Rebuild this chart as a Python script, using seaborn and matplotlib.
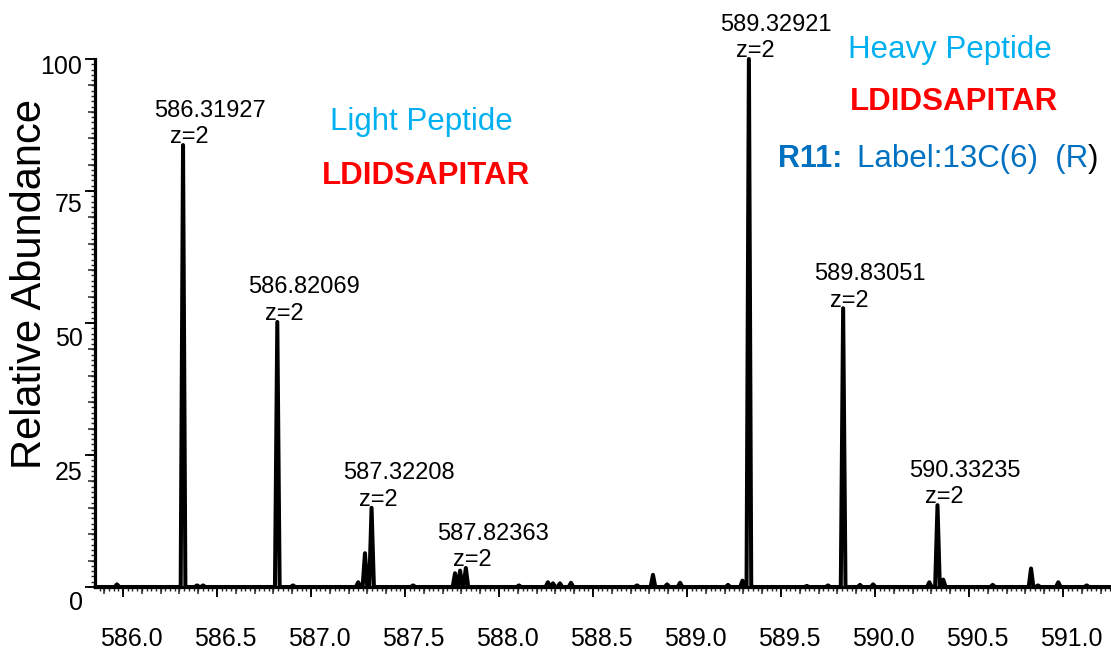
import numpy as np
import pandas as pd
import matplotlib
matplotlib.use("Agg")
import matplotlib.pyplot as plt
import matplotlib.transforms as mtransforms
from matplotlib.ticker import MultipleLocator, FixedLocator, NullFormatter
import seaborn as sns

# Isotope peaks annotated with m/z and charge
labeled_mz = [586.31927, 586.82069, 587.32208, 587.82363, 589.32921, 589.83051, 590.33235]
labeled_abundance = [83.7, 50.2, 15.0, 3.6, 100.0, 52.8, 15.5]
labeled_charge = [2, 2, 2, 2, 2, 2, 2]

# Unannotated minor signals
minor_mz = [585.968, 586.394, 586.426, 586.904, 587.251, 587.287, 587.543,
            587.766, 587.793, 588.106, 588.260, 588.287, 588.324, 588.383,
            588.734, 588.819, 588.894, 588.963, 589.218, 589.295, 589.637,
            589.750, 589.920, 589.990, 590.289, 590.363, 590.626, 590.830,
            590.867, 590.975, 591.126]
minor_abundance = [0.5, 0.3, 0.3, 0.3, 0.9, 6.4, 0.3,
                   2.6, 3.1, 0.3, 0.9, 0.7, 0.7, 0.8,
                   0.3, 2.3, 0.5, 0.8, 0.4, 1.2, 0.2,
                   0.3, 0.4, 0.5, 0.9, 1.4, 0.4, 3.5,
                   0.3, 0.9, 0.3]

x_ticks = [586.0, 586.5, 587.0, 587.5, 588.0, 588.5, 589.0, 589.5, 590.0, 590.5, 591.0]
y_ticks = [0, 25, 50, 75, 100]

light_title = "Light Peptide"
heavy_title = "Heavy Peptide"
sequence = "LDIDSAPITAR"
mod_site = "R11:"
mod_text = "Label:13C(6)  (R"

sns.set_theme(style="ticks")
plt.rcParams["font.family"] = ["Liberation Sans", "DejaVu Sans"]

X_MIN, X_MAX = 585.851, 591.25
PEAK_HALF_WIDTH = 0.0125

# Stick-style profile: each centroid becomes a narrow spike on a flat baseline
peaks = sorted(zip(labeled_mz + minor_mz, labeled_abundance + minor_abundance))
xs, ys = [X_MIN], [0.0]
for m, a in peaks:
    xs += [m - PEAK_HALF_WIDTH, m, m + PEAK_HALF_WIDTH]
    ys += [0.0, a, 0.0]
xs.append(X_MAX)
ys.append(0.0)
spectrum = pd.DataFrame({"mz": xs, "abundance": ys})

fig = plt.figure(figsize=(11.11, 6.52), dpi=100)
ax = fig.add_axes([95 / 1111, 65 / 652, 1015 / 1111, 528 / 652])

sns.lineplot(data=spectrum, x="mz", y="abundance", sort=False, estimator=None,
             color="black", linewidth=2.9, ax=ax)
for line in ax.get_lines():
    line.set_solid_joinstyle("round")
    line.set_clip_on(False)

ax.set_xlim(X_MIN, X_MAX)
ax.set_ylim(0, 100)
ax.set_xlabel("")
ax.set_ylabel("")

for side in ("top", "right"):
    ax.spines[side].set_visible(False)
for side in ("left", "bottom"):
    ax.spines[side].set_linewidth(2.3)
    ax.spines[side].set_color("black")

# x axis: labelled every 0.5, minor every 0.025, medium ticks every 0.1
ax.xaxis.set_major_locator(FixedLocator(x_ticks))
ax.set_xticklabels([f"{t:.1f}" for t in x_ticks])
ax.xaxis.set_minor_locator(MultipleLocator(0.025))
ax.tick_params(axis="x", which="major", length=7, width=1.3, pad=22,
               labelsize=18, colors="black", direction="out")
ax.tick_params(axis="x", which="minor", length=3, width=1.0, direction="out")
sec_x = ax.secondary_xaxis("bottom")
sec_x.xaxis.set_major_locator(MultipleLocator(0.1))
sec_x.xaxis.set_major_formatter(NullFormatter())
sec_x.tick_params(axis="x", length=5, width=1.1, direction="out")
sec_x.spines["bottom"].set_visible(False)

# y axis: labelled every 25, minor every 1, medium ticks every 5
ax.yaxis.set_major_locator(FixedLocator(y_ticks))
ax.set_yticklabels([str(t) for t in y_ticks])
ax.yaxis.set_minor_locator(MultipleLocator(1))
ax.tick_params(axis="y", which="major", length=7, width=1.3, pad=2,
               labelsize=18, colors="black", direction="out")
ax.tick_params(axis="y", which="minor", length=3, width=1.0, direction="out")
sec_y = ax.secondary_yaxis("left")
sec_y.yaxis.set_major_locator(MultipleLocator(5))
sec_y.yaxis.set_major_formatter(NullFormatter())
sec_y.tick_params(axis="y", length=5, width=1.1, direction="out")
sec_y.spines["left"].set_visible(False)

shift_x = mtransforms.ScaledTranslation(8 / 100, 0, fig.dpi_scale_trans)
for lbl in ax.get_xticklabels():
    lbl.set_transform(lbl.get_transform() + shift_x)
# y labels sit slightly below their ticks
y_label_drop = [13, 15, 14, 12, 6]
for lbl, drop in zip(ax.get_yticklabels(), y_label_drop):
    lbl.set_transform(lbl.get_transform()
                      + mtransforms.ScaledTranslation(0, -drop / 100, fig.dpi_scale_trans))

# Peak annotations: m/z on top, charge state just above the apex
for m, a, z in zip(labeled_mz, labeled_abundance, labeled_charge):
    ax.annotate(f"{m:.5f}", xy=(m, a), xytext=(19.5, 20.5), textcoords="offset points",
                ha="center", va="baseline", fontsize=17, color="black")
    ax.annotate(f"z={z}", xy=(m, a), xytext=(4.7, 1.2), textcoords="offset points",
                ha="center", va="baseline", fontsize=17, color="black")

fig.text(30 / 1111, 1 - 284 / 652, "Relative Abundance", rotation=90,
         ha="center", va="center", fontsize=30, color="black")

LIGHT_BLUE = "#00B0F0"
RED = "#FF0000"
BLUE = "#0070C0"

fig.text(421 / 1111, 1 - 130 / 652, light_title, ha="center", va="baseline",
         fontsize=22.5, color=LIGHT_BLUE)
fig.text(426 / 1111, 1 - 184 / 652, sequence, ha="center", va="baseline",
         fontsize=22.5, fontweight="bold", color=RED)
fig.text(950 / 1111, 1 - 58 / 652, heavy_title, ha="center", va="baseline",
         fontsize=22.5, color=LIGHT_BLUE)
fig.text(954 / 1111, 1 - 110 / 652, sequence, ha="center", va="baseline",
         fontsize=22.5, fontweight="bold", color=RED)
fig.text(778 / 1111, 1 - 167 / 652, mod_site, ha="left", va="baseline",
         fontsize=22, fontweight="bold", color=BLUE)
mod_artist = fig.text(857 / 1111, 1 - 167 / 652, mod_text, ha="left", va="baseline",
                      fontsize=22.5, color=BLUE)
# closing bracket in black, attached right after the modification text
ax.annotate(")", xy=(1, 0), xycoords=mod_artist, ha="left", va="bottom",
            fontsize=22.5, color="black", annotation_clip=False)

fig.savefig("out.png", dpi=100, facecolor="white")
